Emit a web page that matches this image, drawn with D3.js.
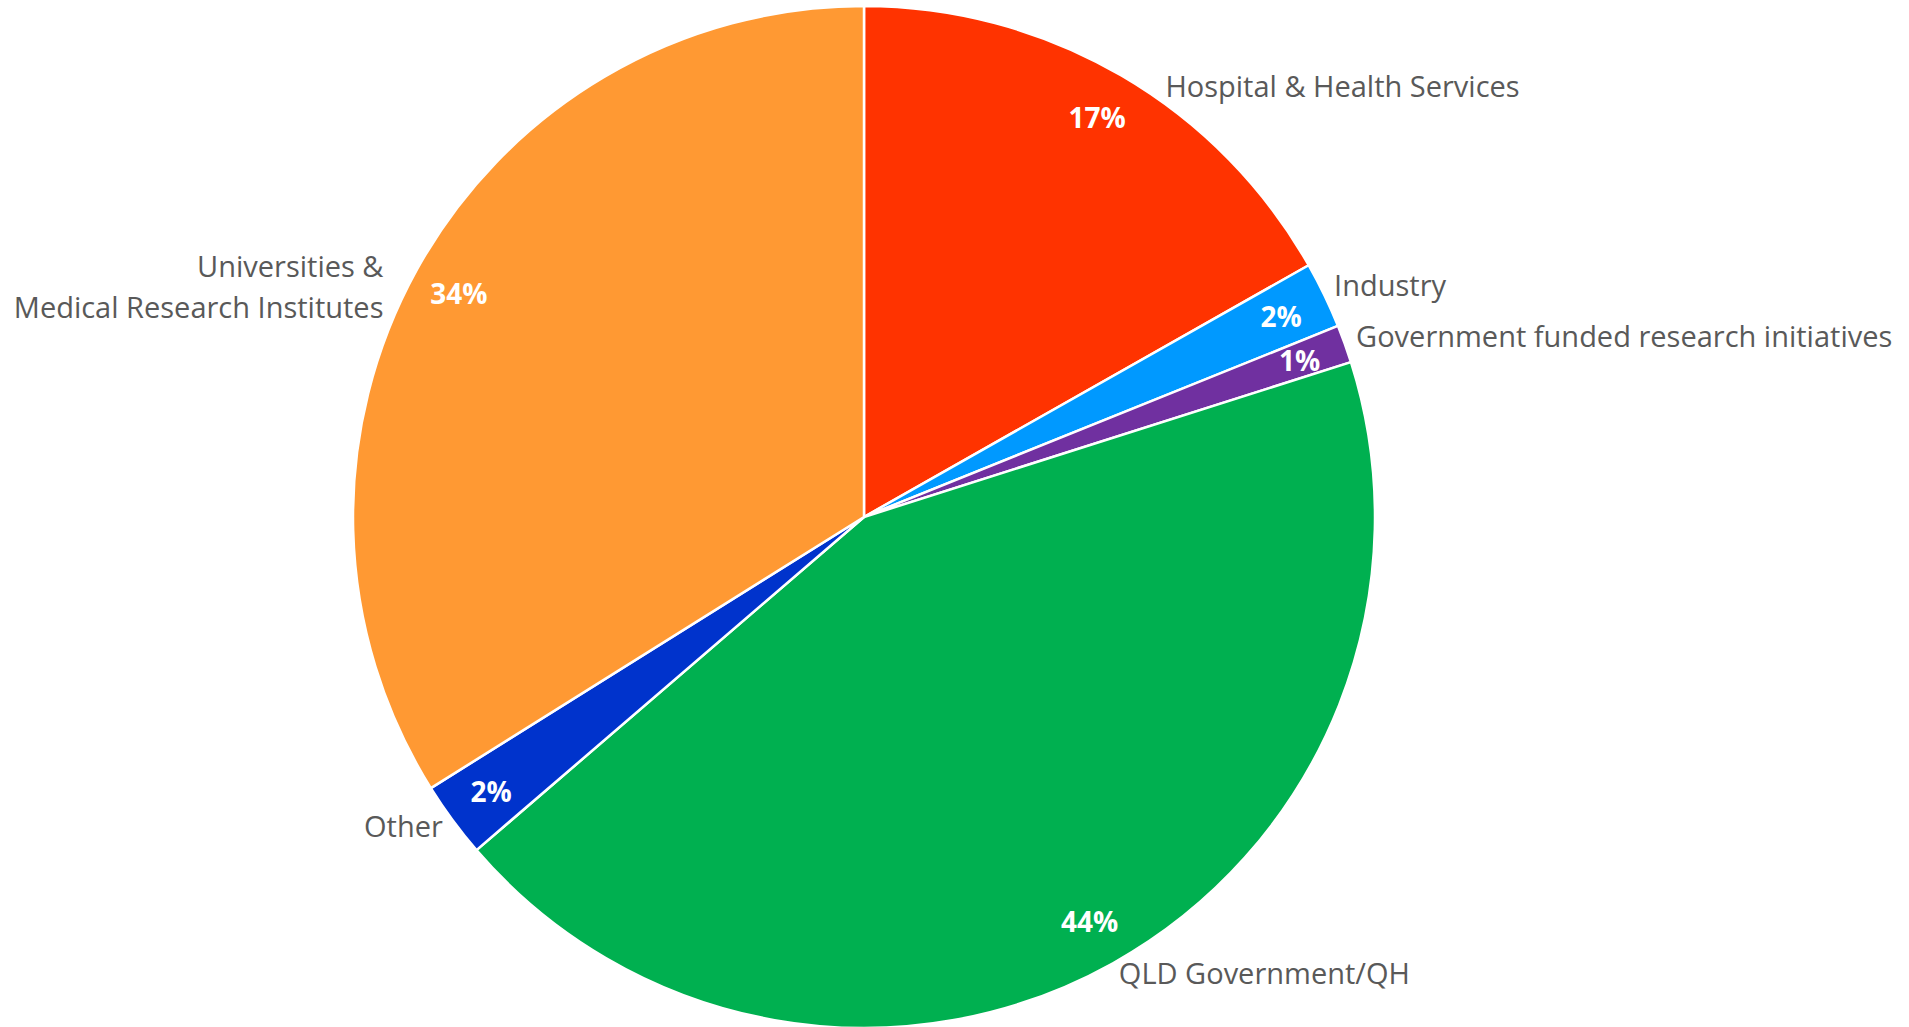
<!DOCTYPE html>
<html>
<head>
<meta charset="utf-8">
<script src="https://cdn.jsdelivr.net/npm/d3@7"></script>
<style>
  html, body { margin: 0; padding: 0; background: #fff; }
  svg { display: block; }
</style>
</head>
<body>
<div id="chart"></div>
<script>
// data, clockwise from 12 o'clock
var categories = ["Hospital & Health Services", "Industry", "Government funded research initiatives",
                  "QLD Government/QH", "Other", "Universities &\nMedical Research Institutes"];
var shares = [16.8, 2.1, 1.2, 43.6, 2.4, 33.9];
var percentLabels = ["17%", "2%", "1%", "44%", "2%", "34%"];
var colors = ["#FF3300", "#0099FF", "#7030A0", "#00B050", "#0033CC", "#FF9933"];

// small hand nudges for the outside labels (Excel moved a couple of them)
var labelNudge = [[38, 22], [-1, -4], [0, -3], [0, 0], [0, 0], [-23, 24]];

var width = 1909, height = 1027;
var cx = 864, cy = 517, radius = 511;

var svg = d3.select("#chart")
  .append("svg")
    .attr("width", width)
    .attr("height", height)
  .append("g")
    .attr("transform", "translate(" + cx + "," + cy + ")");

var pie = d3.pie().sort(null).value(function(d) { return d; });
var arcs = pie(shares);

var arc = d3.arc().innerRadius(0).outerRadius(radius);
var pctArc = d3.arc().innerRadius(radius - 48).outerRadius(radius - 48);

// slices
svg.selectAll("path.slice")
  .data(arcs)
  .enter()
  .append("path")
    .attr("class", "slice")
    .attr("d", arc)
    .attr("fill", function(d, i) { return colors[i]; })
    .attr("stroke", "#fff")
    .attr("stroke-width", 2.5)
    .attr("stroke-linejoin", "round");

// percent labels inside the end of each slice
svg.selectAll("text.pct")
  .data(arcs)
  .enter()
  .append("text")
    .attr("class", "pct")
    .attr("transform", function(d) { return "translate(" + pctArc.centroid(d) + ")"; })
    .attr("text-anchor", "middle")
    .attr("dominant-baseline", "central")
    .attr("font-family", "'Open Sans', sans-serif")
    .attr("font-weight", "bold")
    .attr("font-size", 28)
    .attr("fill", "#fff")
    .text(function(d, i) { return percentLabels[i]; });

// category labels outside
var labelR = radius + 12;
var cats = svg.selectAll("text.cat")
  .data(arcs)
  .enter()
  .append("text")
    .attr("class", "cat")
    .attr("font-family", "'Open Sans', sans-serif")
    .attr("font-size", 29)
    .attr("fill", "#595959")
    .attr("text-anchor", function(d) {
      var a = (d.startAngle + d.endAngle) / 2;
      return Math.sin(a) >= 0 ? "start" : "end";
    })
    .attr("transform", function(d, i) {
      var a = (d.startAngle + d.endAngle) / 2;
      var x = labelR * Math.sin(a) + labelNudge[i][0];
      var y = -labelR * Math.cos(a) + labelNudge[i][1];
      return "translate(" + x + "," + y + ")";
    });

cats.each(function(d, i) {
  var lines = categories[i].split("\n");
  var t = d3.select(this);
  var lh = 41;
  var y0 = -(lines.length - 1) * lh / 2 + 10;
  lines.forEach(function(line, j) {
    t.append("tspan")
      .attr("x", 0)
      .attr("y", y0 + j * lh)
      .text(line);
  });
});
</script>
</body>
</html>
